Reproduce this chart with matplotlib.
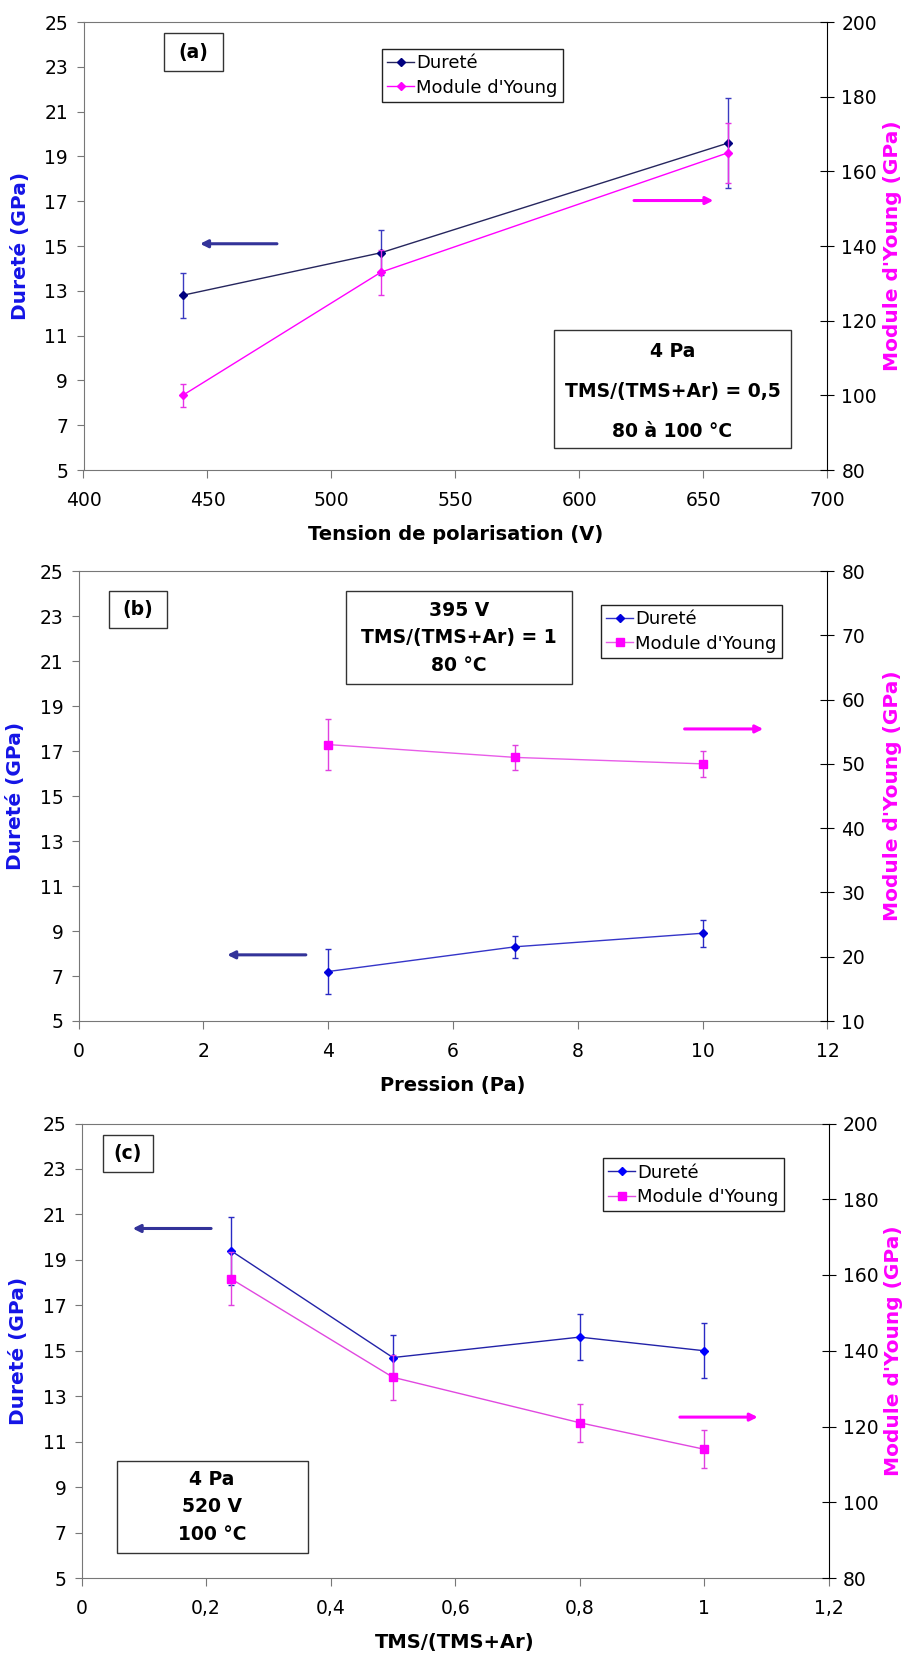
import matplotlib
matplotlib.use("Agg")
import matplotlib.pyplot as plt
from matplotlib.lines import Line2D
from matplotlib.patches import Rectangle

plt.rcParams['font.family'] = ['DejaVu Sans']

# ---- données (a) : tension de polarisation
tension = [440, 520, 660]
durete_a = [12.8, 14.7, 19.6]
durete_a_err = [1.0, 1.0, 2.0]
young_a = [100, 133, 165]
young_a_err = [3, 6, 8]

# ---- données (b) : pression
pression = [4, 7, 10]
durete_b = [7.2, 8.3, 8.9]
durete_b_err = [1.0, 0.5, 0.6]
young_b = [53, 51, 50]
young_b_err = [4, 2, 2]

# ---- données (c) : TMS/(TMS+Ar)
ratio = [0.24, 0.5, 0.8, 1.0]
durete_c = [19.4, 14.7, 15.6, 15.0]
durete_c_err = [1.5, 1.0, 1.0, 1.2]
young_c = [159, 133, 121, 114]
young_c_err = [7, 6, 5, 5]

# ticks
xticks_a = [400, 450, 500, 550, 600, 650, 700]
xticks_b = [0, 2, 4, 6, 8, 10, 12]
xticks_c = [0, 0.2, 0.4, 0.6, 0.8, 1.0, 1.2]
xticklabels_c = ['0', '0,2', '0,4', '0,6', '0,8', '1', '1,2']
yticks_left = [5, 7, 9, 11, 13, 15, 17, 19, 21, 23, 25]
yticks_right_a = [80, 100, 120, 140, 160, 180, 200]
yticks_right_b = [10, 20, 30, 40, 50, 60, 70, 80]
yticks_right_c = yticks_right_a

W, H = 914, 1654
fig = plt.figure(figsize=(W / 100, H / 100), dpi=100)
GRAY = '#777777'
BLUE_LABEL = '#1414e6'
MAGENTA = '#ff00ff'
TICK_SIZE = 13.5


def add_axes_px(left, top, right, bottom):
    return fig.add_axes([left / W, 1 - bottom / H, (right - left) / W, (bottom - top) / H])


def draw_panel(ax, x, d, d_err, y, y_err, xlim, xticks, xticklabels, ylim2, yticks2,
               xlabel, styles, tag_box, legend_pos, cond_box, cond_lines, arrows):
    ax2 = ax.twinx()

    # dureté (axe gauche)
    ax.errorbar(x, d, yerr=d_err, fmt='none', ecolor=styles['d_ecolor'],
                elinewidth=1.0, capsize=2.5, capthick=1.0, zorder=2)
    ax.plot(x, d, color=styles['d_line'], lw=1.0, marker='D', ms=4.5,
            mfc=styles['d_marker'], mec=styles['d_marker'], zorder=3)

    # module d'Young (axe droit)
    ax2.errorbar(x, y, yerr=y_err, fmt='none', ecolor=styles['y_ecolor'],
                 elinewidth=1.0, capsize=2.5, capthick=1.0, zorder=2)
    ax2.plot(x, y, color=styles['y_line'], lw=1.0, marker=styles['y_marker'],
             ms=styles['y_ms'], mfc=MAGENTA, mec=MAGENTA, zorder=3)

    ax.set_xlim(*xlim)
    ax.set_ylim(5, 25)
    ax2.set_ylim(*ylim2)
    ax.set_xticks(xticks)
    ax.set_xticklabels(xticklabels)
    ax.set_yticks(yticks_left)
    ax2.set_yticks(yticks2)

    ax.tick_params(axis='x', direction='out', length=6, pad=9, labelsize=TICK_SIZE, color=GRAY)
    ax.tick_params(axis='y', direction='out', length=5, pad=6, labelsize=TICK_SIZE, color=GRAY)
    ax2.tick_params(axis='y', direction='inout', length=10, pad=5, labelsize=TICK_SIZE)

    for s in ['left', 'bottom', 'top']:
        ax.spines[s].set_color(GRAY)
        ax2.spines[s].set_visible(False)
    ax.spines['right'].set_visible(False)
    ax2.spines['right'].set_color('black')

    ax.set_xlabel(xlabel, fontsize=14, fontweight='bold', labelpad=11)
    ax.set_ylabel('Dureté (GPa)', fontsize=14.5, fontweight='bold', color=BLUE_LABEL)
    ax2.set_ylabel("Module d'Young (GPa)", fontsize=14.5, fontweight='bold', color=MAGENTA)
    ax.yaxis.set_label_coords(-0.072, 0.5)
    ax2.yaxis.set_label_coords(1.074, 0.5)

    # étiquette (a)/(b)/(c)
    tx0, ty0, tx1, ty1, tag = tag_box
    ax2.add_patch(Rectangle((tx0, ty0), tx1 - tx0, ty1 - ty0, transform=ax2.transAxes,
                            fill=False, ec='#333333', lw=1.0, zorder=5))
    ax2.text((tx0 + tx1) / 2, (ty0 + ty1) / 2, tag, transform=ax2.transAxes,
             ha='center', va='center', fontsize=13.5, fontweight='bold', zorder=6)

    # conditions
    cx0, cy0, cx1, cy1 = cond_box
    ax2.add_patch(Rectangle((cx0, cy0), cx1 - cx0, cy1 - cy0, transform=ax2.transAxes,
                            fill=False, ec='#333333', lw=1.0, zorder=5))
    for txt, ty in cond_lines:
        ax2.text((cx0 + cx1) / 2, ty, txt, transform=ax2.transAxes, ha='center',
                 va='center', fontsize=13.5, fontweight='bold', zorder=6)

    # flèches
    for (xa, ya), (xb, yb), col, axis in arrows:
        target = ax if axis == 'left' else ax2
        target.annotate('', xy=(xb, yb), xytext=(xa, ya),
                        arrowprops=dict(arrowstyle='-|>', color=col, lw=2.2,
                                        mutation_scale=11, shrinkA=0, shrinkB=0))

    # légende
    handles = [
        Line2D([], [], color=styles['d_line'], lw=1.0, marker='D', ms=4.5,
               mfc=styles['d_marker'], mec=styles['d_marker']),
        Line2D([], [], color=styles['y_line'], lw=1.0, marker=styles['y_marker'],
               ms=styles['y_ms'], mfc=MAGENTA, mec=MAGENTA),
    ]
    leg = ax2.legend(handles, ['Dureté', "Module d'Young"], loc='upper left',
                     bbox_to_anchor=legend_pos, borderaxespad=0, fontsize=13,
                     handlelength=1.5, handletextpad=0.1, labelspacing=0.35,
                     borderpad=0.3, fancybox=False, framealpha=1, edgecolor='#222222')
    leg.get_frame().set_linewidth(1.0)
    leg.set_zorder(10)
    return ax2


style_a = dict(d_line='#26265e', d_marker='#000080', d_ecolor='#3a3ac0',
               y_line=MAGENTA, y_ecolor='#e633e6', y_marker='D', y_ms=4.5)
style_b = dict(d_line='#3535c8', d_marker='#0000dd', d_ecolor='#2a2ac4',
               y_line='#e85ce8', y_ecolor='#e040e0', y_marker='s', y_ms=6)
style_c = dict(d_line='#2222a8', d_marker='#0000ff', d_ecolor='#2a2ac4',
               y_line='#e048e0', y_ecolor='#e040e0', y_marker='s', y_ms=6)

ax_a = add_axes_px(83.5, 22, 827.5, 470)
draw_panel(ax_a, tension, durete_a, durete_a_err, young_a, young_a_err,
           (400, 700), xticks_a, [str(t) for t in xticks_a], (80, 200), yticks_right_a,
           'Tension de polarisation (V)', style_a,
           (0.108, 0.891, 0.1875, 0.975, '(a)'), (0.401, 0.94),
           (0.632, 0.050, 0.951, 0.3125),
           [('4 Pa', 0.264), ('TMS/(TMS+Ar) = 0,5', 0.175), ('80 à 100 °C', 0.0855)],
           [((478, 15.1), (447, 15.1), '#333399', 'left'),
            ((622, 17.03), (654, 17.03), MAGENTA, 'left')])

ax_b = add_axes_px(78.7, 571, 827.5, 1021)
draw_panel(ax_b, pression, durete_b, durete_b_err, young_b, young_b_err,
           (0, 12), xticks_b, [str(t) for t in xticks_b], (10, 80), yticks_right_b,
           'Pression (Pa)', style_b,
           (0.0405, 0.873, 0.118, 0.9556, '(b)'), (0.6975, 0.9244),
           (0.3564, 0.7489, 0.6585, 0.9556),
           [('395 V', 0.9124), ('TMS/(TMS+Ar) = 1', 0.853), ('80 °C', 0.791)],
           [((3.64, 7.94), (2.38, 7.94), '#333399', 'left'),
            ((9.71, 17.98), (10.97, 17.98), MAGENTA, 'left')])

ax_c = add_axes_px(81.6, 1123.5, 828.7, 1578)
draw_panel(ax_c, ratio, durete_c, durete_c_err, young_c, young_c_err,
           (0, 1.2), xticks_c, xticklabels_c, (80, 200), yticks_right_c,
           'TMS/(TMS+Ar)', style_c,
           (0.028, 0.8924, 0.096, 0.9756, '(c)'), (0.6974, 0.9234),
           (0.0468, 0.0543, 0.3026, 0.2585),
           [('4 Pa', 0.2174), ('520 V', 0.1573), ('100 °C', 0.0964)],
           [((0.208, 20.38), (0.082, 20.38), '#333399', 'left'),
            ((0.961, 12.08), (1.086, 12.08), MAGENTA, 'left')])

fig.savefig('out.png', dpi=100)
